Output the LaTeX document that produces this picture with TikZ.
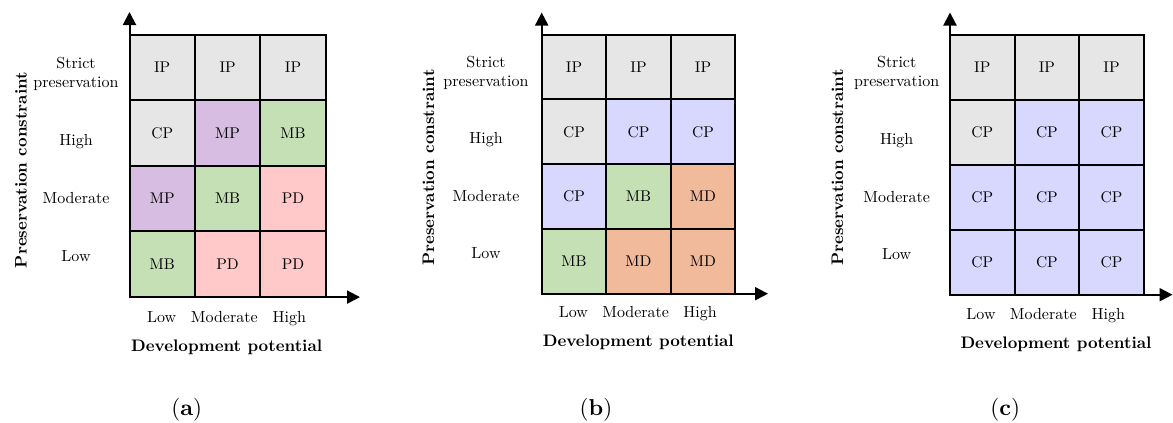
\documentclass[tikz,border=0pt]{standalone}
\usepackage{fontspec}
\setmainfont{lmroman10-regular.otf}[BoldFont=lmroman10-bold.otf]
\usetikzlibrary{arrows.meta}
\definecolor{cgray}{HTML}{E6E6E6}
\definecolor{cpurple}{HTML}{D8BDE2}
\definecolor{cgreen}{HTML}{C5E0B4}
\definecolor{cpink}{HTML}{FFC9C9}
\definecolor{cblue}{HTML}{D8D8FF}
\definecolor{corange}{HTML}{F1BA9B}
\newcommand{\mcell}[5]{\node[cell,fill=#4] (#1) at (#2,#3) {#5};}
\tikzset{
  cell/.style={draw=black,line width=2pt,inner sep=0pt,font=\fontsize{15.5}{18}\selectfont},
  cella/.style={minimum width=65.4pt,minimum height=65.6pt},
  cellb/.style={minimum width=64.5pt,minimum height=64.75pt},
  cellc/.style={minimum width=64.6pt,minimum height=65pt},
  axis/.style={line width=2pt,-{Triangle[length=13pt,width=13pt]}},
  lab/.style={anchor=base,inner sep=0pt,font=\fontsize{16}{19}\selectfont},
  ttl/.style={inner sep=0pt,font=\fontsize{16.7}{19}\selectfont\bfseries},
  sub/.style={anchor=base,inner sep=0pt,font=\fontsize{23}{26}\selectfont},
}
\begin{document}
\begin{tikzpicture}[x=1pt,y=-1pt]
\useasboundingbox (0,0) rectangle (1173,423);
% ---------------- panel (a)
\begin{scope}[cell/.append style={cella}]
\mcell{a11}{162.2}{67.5}{cgray}{IP}
\mcell{a12}{227.6}{67.5}{cgray}{IP}
\mcell{a13}{293.0}{67.5}{cgray}{IP}
\mcell{a21}{162.2}{133.1}{cgray}{CP}
\mcell{a22}{227.6}{133.1}{cpurple}{MP}
\mcell{a23}{293.0}{133.1}{cgreen}{MB}
\mcell{a31}{162.2}{198.7}{cpurple}{MP}
\mcell{a32}{227.6}{198.7}{cgreen}{MB}
\mcell{a33}{293.0}{198.7}{cpink}{PD}
\mcell{a41}{162.2}{264.2}{cgreen}{MB}
\mcell{a42}{227.6}{264.2}{cpink}{PD}
\mcell{a43}{293.0}{264.2}{cpink}{PD}
\end{scope}
\coordinate (a-o) at (129.5,297.1);
\coordinate (a-yt) at (129.5,12);
\coordinate (a-xt) at (360,297.1);
\draw[axis] (a-o) -- (a-yt);
\draw[axis] (a-o) -- (a-xt);
\node[lab] (a-r1a) at (76,68.3) {Strict};
\node[lab] (a-r1b) at (76,87.3) {preservation};
\node[lab] (a-r2) at (76,145) {High};
\node[lab] (a-r3) at (76,203.3) {Moderate};
\node[lab] (a-r4) at (76,261.7) {Low};
\node[lab] (a-c1) at (161.7,322) {Low};
\node[lab] (a-c2) at (224.3,322) {Moderate};
\node[lab] (a-c3) at (289.3,322) {High};
\node[ttl,anchor=base] (a-xl) at (226.7,351.7) {Development potential};
\node[ttl,rotate=90] (a-yl) at (21,170) {Preservation constraint};
\node[sub] (a-sub) at (186.7,415.5) {(\textbf{a})};
% ---------------- panel (b)
\begin{scope}[cell/.append style={cellb}]
\mcell{b11}{574.0}{67.1}{cgray}{IP}
\mcell{b12}{638.5}{67.1}{cgray}{IP}
\mcell{b13}{703.0}{67.1}{cgray}{IP}
\mcell{b21}{574.0}{131.8}{cgray}{CP}
\mcell{b22}{638.5}{131.8}{cblue}{CP}
\mcell{b23}{703.0}{131.8}{cblue}{CP}
\mcell{b31}{574.0}{196.6}{cblue}{CP}
\mcell{b32}{638.5}{196.6}{cgreen}{MB}
\mcell{b33}{703.0}{196.6}{corange}{MD}
\mcell{b41}{574.0}{261.3}{cgreen}{MB}
\mcell{b42}{638.5}{261.3}{corange}{MD}
\mcell{b43}{703.0}{261.3}{corange}{MD}
\end{scope}
\coordinate (b-o) at (541.7,293.7);
\coordinate (b-yt) at (541.7,12.5);
\coordinate (b-xt) at (768,293.7);
\draw[axis] (b-o) -- (b-yt);
\draw[axis] (b-o) -- (b-xt);
\node[lab] (b-r1a) at (486,67.3) {Strict};
\node[lab] (b-r1b) at (486,86.7) {preservation};
\node[lab] (b-r2) at (486,143.3) {High};
\node[lab] (b-r3) at (486,201.7) {Moderate};
\node[lab] (b-r4) at (486,258.3) {Low};
\node[lab] (b-c1) at (573.3,317.3) {Low};
\node[lab] (b-c2) at (635.7,317.3) {Moderate};
\node[lab] (b-c3) at (700,317.3) {High};
\node[ttl,anchor=base] (b-xl) at (638.3,346.7) {Development potential};
\node[ttl,rotate=90] (b-yl) at (428.5,167.5) {Preservation constraint};
\node[sub] (b-sub) at (596,415.5) {(\textbf{b})};
% ---------------- panel (c)
\begin{scope}[cell/.append style={cellc}]
\mcell{c11}{982.3}{67.2}{cgray}{IP}
\mcell{c12}{1046.9}{67.2}{cgray}{IP}
\mcell{c13}{1111.5}{67.2}{cgray}{IP}
\mcell{c21}{982.3}{132.2}{cgray}{CP}
\mcell{c22}{1046.9}{132.2}{cblue}{CP}
\mcell{c23}{1111.5}{132.2}{cblue}{CP}
\mcell{c31}{982.3}{197.2}{cblue}{CP}
\mcell{c32}{1046.9}{197.2}{cblue}{CP}
\mcell{c33}{1111.5}{197.2}{cblue}{CP}
\mcell{c41}{982.3}{262.2}{cblue}{CP}
\mcell{c42}{1046.9}{262.2}{cblue}{CP}
\mcell{c43}{1111.5}{262.2}{cblue}{CP}
\end{scope}
\coordinate (c-o) at (950,294.7);
\coordinate (c-yt) at (950,12.5);
\coordinate (c-xt) at (1172.5,294.7);
\draw[axis] (c-o) -- (c-yt);
\draw[axis] (c-o) -- (c-xt);
\node[lab] (c-r1a) at (896.7,67.3) {Strict};
\node[lab] (c-r1b) at (896.7,86.7) {preservation};
\node[lab] (c-r2) at (896.7,144) {High};
\node[lab] (c-r3) at (896.7,202.3) {Moderate};
\node[lab] (c-r4) at (896.7,259.3) {Low};
\node[lab] (c-c1) at (981,319.3) {Low};
\node[lab] (c-c2) at (1043.3,319.3) {Moderate};
\node[lab] (c-c3) at (1108.3,319.3) {High};
\node[ttl,anchor=base] (c-xl) at (1056,348.3) {Development potential};
\node[ttl,rotate=90] (c-yl) at (837.5,167.5) {Preservation constraint};
\node[sub] (c-sub) at (1005.3,415.5) {(\textbf{c})};
\end{tikzpicture}
\end{document}
